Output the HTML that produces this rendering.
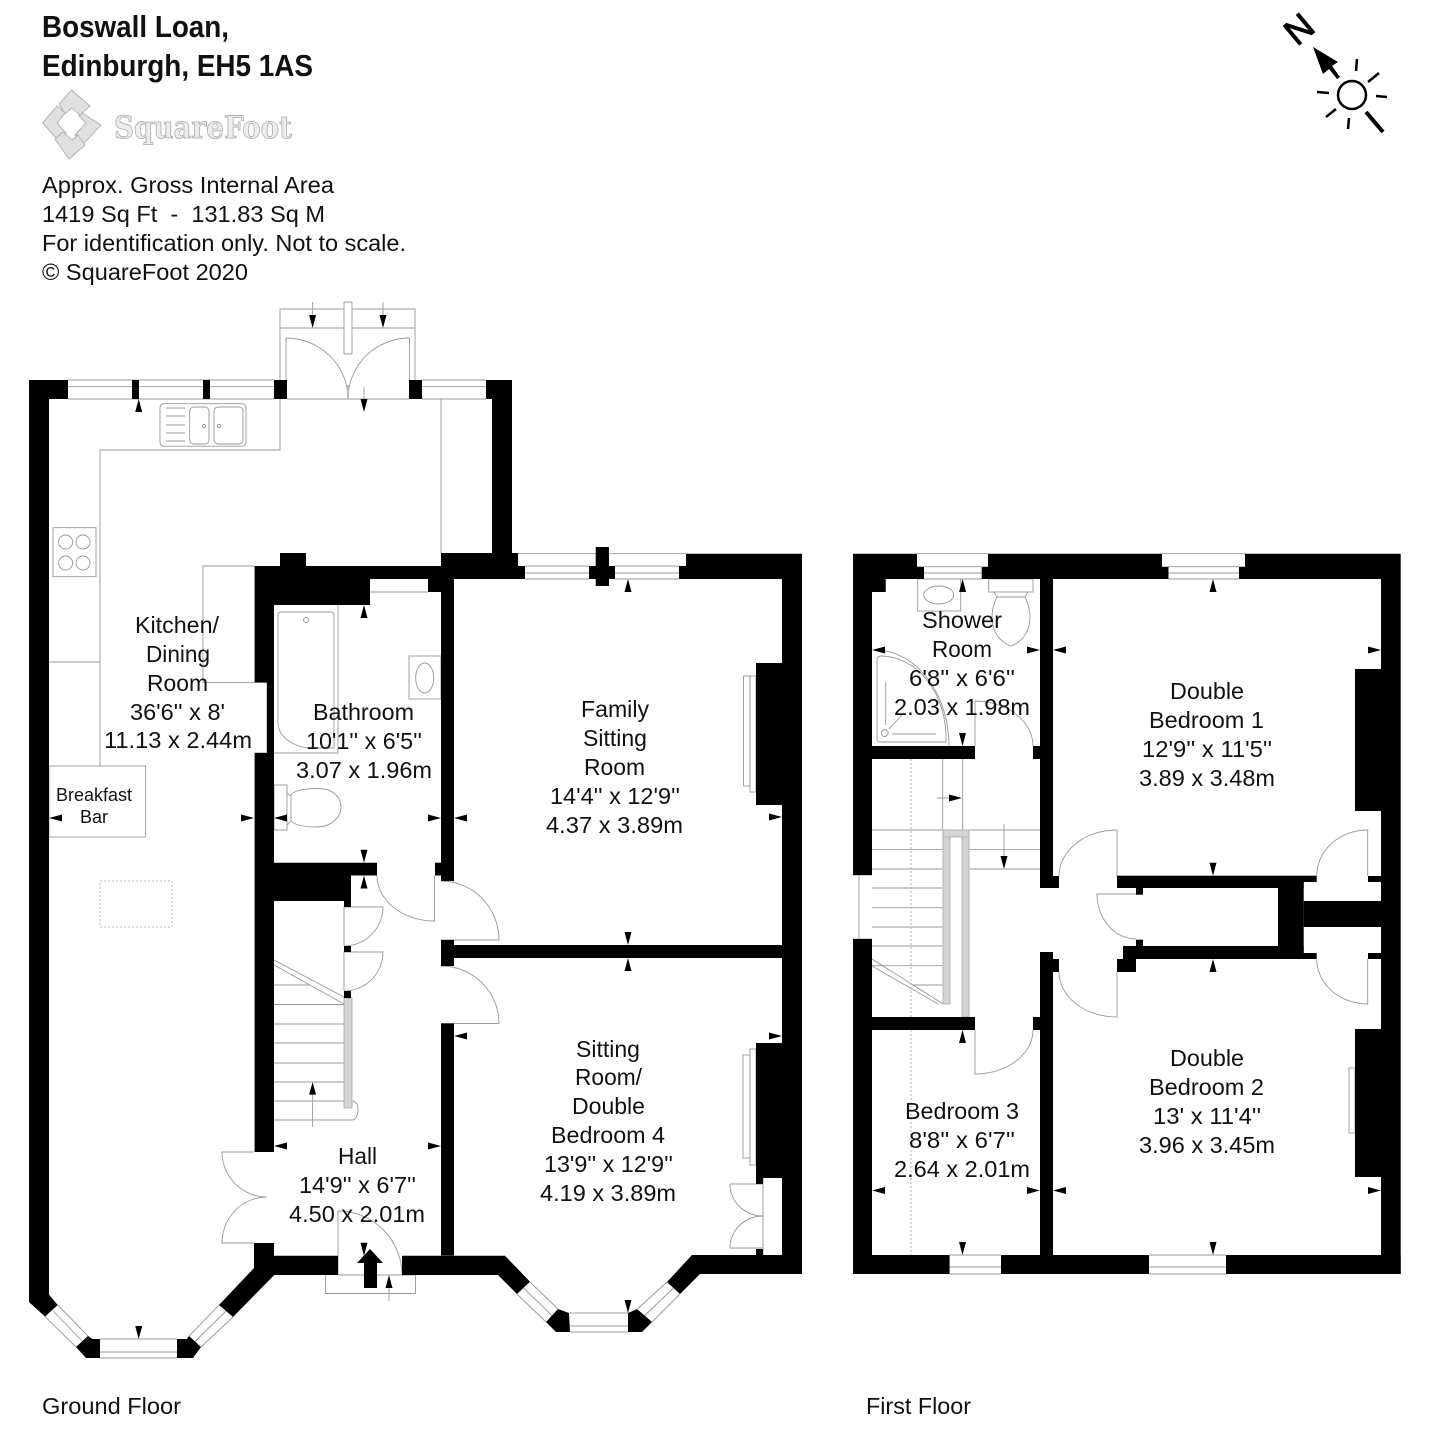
<!DOCTYPE html>
<html><head><meta charset="utf-8"><title>Boswall Loan floor plan</title>
<style>
html,body{margin:0;padding:0;background:#fff}
svg{display:block}
text{font-family:"Liberation Sans",sans-serif;fill:#111;font-size:23.5px}
.k{fill:#000;stroke:none}
.g{fill:none;stroke:#999;stroke-width:.9}
.w{fill:#fff;stroke:#999;stroke-width:.9}
.h{fill:#d4d4d4;stroke:#a8a8a8;stroke-width:.8}
.d{fill:none;stroke:#b4b4b4;stroke-width:1;stroke-dasharray:2 2}
</style></head><body>
<svg width="1429" height="1429" viewBox="0 0 1429 1429" xmlns="http://www.w3.org/2000/svg">
<rect width="1429" height="1429" fill="#fff"/>

<!-- header -->
<text x="42" y="37" style="font-size:31px;font-weight:700" textLength="187" lengthAdjust="spacingAndGlyphs">Boswall Loan,</text>
<text x="42" y="76" style="font-size:31px;font-weight:700" textLength="271" lengthAdjust="spacingAndGlyphs">Edinburgh, EH5 1AS</text>
<g fill="#e0e0e0" stroke="#b4b4b4" stroke-width="1">
<path d="M71.7 90L90 106 80 115 71.7 108 65 114 59 104Z"/>
<path d="M57 106L65 113 57 123 66 133 58 140 42.7 123Z"/>
<path d="M82 113L101 125 84 143 75 135 86 123 79 116Z"/>
<path d="M55 139L63 132 72 140 78 135 85 145 69 159Z"/>
</g>
<text x="114" y="138" style="font-family:'DejaVu Serif','Liberation Serif',serif;font-weight:700;font-size:31px;fill:#ececec;stroke:#a8a8a8;stroke-width:.8" textLength="178" lengthAdjust="spacingAndGlyphs">SquareFoot</text>
<text x="42" y="193" textLength="292" lengthAdjust="spacingAndGlyphs">Approx. Gross Internal Area</text>
<text x="42" y="222" xml:space="preserve" textLength="283" lengthAdjust="spacingAndGlyphs">1419 Sq Ft  -  131.83 Sq M</text>
<text x="42" y="251" textLength="364" lengthAdjust="spacingAndGlyphs">For identification only. Not to scale.</text>
<text x="42" y="280" textLength="206" lengthAdjust="spacingAndGlyphs">© SquareFoot 2020</text>

<!-- compass -->
<text transform="translate(1299,29) rotate(-40)" text-anchor="middle" y="12.4" style="font-size:36px;fill:#000;stroke:#000;stroke-width:1">N</text>
<path class="k" d="M1313 47L1338 62 1332 66 1340 77 1337 79 1329 69 1323 74Z"/>
<circle cx="1352" cy="95" r="14" fill="none" stroke="#000" stroke-width="2.5"/>
<g stroke="#000" stroke-width="2.5" fill="none">
<path d="M1357 59L1356 71M1379 73L1368 82M1376 96L1387 97M1349 118L1348 129M1336 109L1326 117M1317 92L1329 93"/>
<path d="M1366 112L1383 132" stroke-width="4"/>
</g>

<!-- GROUND FLOOR fixtures / light lines -->
<g class="g">
<path d="M68 380H274M68 386.7H274M68 399H139M139 399H274M422 380H486M422 386.7H486M422 399H486M287 399H409"/>
<path d="M280 380V309H415V380M280 328H415M286 380V338M409.5 380V338M286 338A62 61 0 0 1 348 399M409.5 338A61.5 61 0 0 0 348 399"/>
<path d="M312.6 302V316M383 302V316M364 387V400"/>
<path d="M280 399V450H100V766M49 662H100M441 399V553M203 682.6V566H254.6M203 682.6H254.6M254.6 753H267M267 682.6V753"/>
<rect x="160" y="403.7" width="86" height="42.5" rx="4"/>
<path d="M166 408H185M166 416H185M166 425H185M166 433H185M166 441H185"/>
<rect x="189.7" y="407" width="19.3" height="37" rx="4"/>
<rect x="214" y="407" width="29" height="37" rx="4"/>
<circle cx="204" cy="426" r="1.5"/><circle cx="219" cy="426" r="1.5"/>
<rect x="53" y="527.7" width="43" height="49"/>
<circle cx="65.6" cy="542" r="7"/><circle cx="83" cy="542" r="7"/><circle cx="65.6" cy="563" r="7"/><circle cx="83" cy="563" r="7"/>
<rect x="49" y="766" width="96.6" height="71"/>
<path d="M370 592H428M338 605V753H274"/>
<path d="M281 612H331q3 0 3 3V748H313C295 748 278 738 278 722V615q0-3 3-3Z"/>
<circle cx="306" cy="620" r="2.5"/>
<rect x="409" y="656" width="32" height="43"/>
<ellipse cx="424.7" cy="678" rx="9" ry="15"/>
<rect x="274" y="785" width="13" height="45"/>
<path d="M287 793L291 796M287 825L291 821M291 796C291 792 300 788.5 318 788.5C334 788.5 341 798 341 807C341 817 332 827 316 827C300 827 291 823 291 820Z"/>
<path d="M377 875.5A57.5 45.5 0 0 0 434.5 921V875.5"/>
<path d="M441 881A58 59 0 0 1 499 940H441M441 966A58 57.5 0 0 1 499 1023.5H441"/>
<path d="M344 946V907H383A39 39 0 0 1 344 946M344 991V952H383A39 39 0 0 1 344 991"/>
<path d="M254 1152H222A45 45 0 0 0 267 1197M254 1243H222A45 46 0 0 1 267 1197"/>
<path d="M338 1275V1211A64 64 0 0 1 402 1275"/>
<path d="M338 1275H415.5V1293.5H325.5V1275"/>
<path d="M274 985H309M274 1004.5H344M274 1024H344M274 1043H344M274 1063H344M274 1082H344M274 1101H344M274 1120H352M274 960L344 997M274 965L344 1004M352 1101C357 1101 358 1106 358 1110C358 1116 355 1120 352 1120M312.6 1092V1127"/>
<path d="M364 1243V1255M389 1286V1301"/>
<rect x="743.5" y="676" width="6.5" height="110"/>
<rect x="750" y="676" width="6" height="116"/>
<rect x="743" y="1055" width="7" height="103"/>
<rect x="750" y="1049" width="6" height="116"/>
<path d="M763 1184H730A33 32 0 0 0 763 1216M763 1248H730A33 32 0 0 1 763 1216M763 1178V1255"/>
<path d="M100 1339H177M100 1358H177M100 1352H177M57.7 1305L88 1336M45 1316.6L76 1347M52.7 1310.5L82 1341M189 1336L219 1305M201 1347L233 1317M195 1341.5L226 1311"/>
<path d="M525 566H589M518 553.7H595.7M525 573H589M525 579H589M609 553.7H686M615 566H679M615 573H679M615 579H679"/>
<path d="M570 1313H628M570 1332H628M570 1326H628M530 1282L558 1309M517 1294L546 1322M523.5 1288L552 1315.5M637.5 1309L667 1282M652 1322L680 1294M644.7 1315.5L673.5 1288"/>
</g>
<rect class="w" x="344" y="302" width="8" height="52" rx="1"/>
<rect x="347" y="385" width="2" height="14" fill="#bbb"/>
<rect class="d" x="100" y="881" width="72" height="46"/>
<rect class="h" x="344" y="998" width="8" height="110"/>

<!-- GROUND FLOOR walls -->
<g class="k">
<path d="M29 380H68V399H49V1294.6L57.7 1305 45 1316.6 29 1302Z"/>
<rect x="132" y="380" width="7" height="19"/><rect x="203" y="380" width="7" height="19"/>
<rect x="274" y="380" width="13" height="19"/><rect x="409" y="380" width="13" height="19"/>
<path d="M486 380H512V553H492V399H486Z"/>
<path d="M88 1336L92.7 1339H100V1358H86L76 1347Z"/>
<path d="M177 1339H186.7L189 1336 201 1347 193 1358H177Z"/>
<path d="M254 1243H274V1255.7H338V1275H274.3L233 1317 219 1305 254 1268Z"/>
<path d="M254.6 566H280V553H306V566H441V553H518V566H525V579H454V881H441V592H428V579H370V605H274V682.6H254.6Z"/>
<rect x="267" y="682" width="7" height="72"/>
<rect x="254.6" y="753" width="19.4" height="399"/>
<path d="M274 862.7H377V875.5H351V907H344V901H274Z"/>
<rect x="435" y="862.7" width="6" height="12.8"/>
<rect x="344" y="946" width="7" height="6"/><rect x="344" y="991" width="7" height="7"/>
<rect x="441" y="940" width="13" height="26"/><rect x="454" y="945" width="328" height="13"/>
<rect x="441" y="1023.5" width="13" height="232"/>
<path d="M402 1255.7H505L530 1281.7 517 1294 498 1275H402Z"/>
<path d="M558 1309L569 1313 570 1332H556L546 1322Z"/>
<path d="M628 1313L637 1309 652 1322 642 1332H628Z"/>
<path d="M686 553.7H802V1274H700L680 1294 667 1282 692 1255H782V579H679V566H686Z"/>
<rect x="595.7" y="547" width="13.3" height="39"/><rect x="589" y="566" width="26" height="13"/>
<rect x="756" y="663" width="26" height="142"/>
<rect x="756" y="1043" width="26" height="135"/>
<rect x="756" y="1178" width="7" height="6"/><rect x="756" y="1249" width="7" height="6"/>
<path d="M370 1249L383 1263H377V1288H364V1263H357Z"/>
</g>
<!-- GROUND arrows -->
<path class="k" d="
M138.7 399l-3.5 13h7z
M312.6 328l-3.5-13h7z M383 328l-3.5-13h7z M364 412l-3.5-13h7z
M364 605l-3.5 13h7z M364 862.7l-3.5-13h7z M364 875.5l-3.5 13h7z
M49 818l13-3.5v7z M254 818l-13-3.5v7z M274 818l13-3.5v7z M441 818l-13-3.5v7z M454 818l13-3.5v7z M782 817l-13-3.5v7z
M274 1146l13-3.5v7z M441 1146l-13-3.5v7z
M312.6 1082l-3.5 12.6h7z M364 1255.7l-3.5-13h7z M389 1275l-3.5 13h7z
M138.7 1339l-3.5-13h7z
M628 579l-3.5 13h7z M628 945l-3.5-13h7z M628 958l-3.5 13h7z
M454 1036l13-3.5v7z M782 1036l-13-3.5v7z M628 1313l-3.5-13h7z"/>

<!-- FIRST FLOOR light lines -->
<g class="g">
<path d="M917 553.7H988M924 566.7H981.7M924 573H981.7M924 579H981.7M1162 553.7H1245M1168.5 566.7H1239M1168.5 573H1239M1168.5 579H1239"/>
<path d="M853 875H872M853 939H872M859 875V939"/>
<path d="M949.6 1255H1001M949.6 1267H1001M949.6 1274H1001M1149 1255H1226M1149 1267H1226M1149 1274H1226"/>
<rect x="917.7" y="579" width="43" height="32"/>
<ellipse cx="938.7" cy="595" rx="15" ry="9"/>
<rect x="988.7" y="579" width="44.3" height="13"/>
<path d="M994 592L997 597M1028 592L1025 597M997 597H1025C1029 605 1030 612 1030 617C1030 632 1022 642 1011 646C1000 642 992 632 992 617C992 612 993 605 997 597Z"/>
<path d="M875 650A74 96 0 0 1 949 746"/>
<path d="M881 656A65 82 0 0 1 946 738V742H881Q877 742 877 738V660Q877 656 881 656Z"/>
<circle cx="884.7" cy="733" r="3.5"/>
<path d="M885.7 682V725M892 734H936M889 729L903 714"/>
<path d="M975 746V701A58 45 0 0 1 1033 746M975 1030V1074A58 44 0 0 0 1033 1030"/>
<path d="M1117 876V830A58 46 0 0 0 1059 876M1117 972V1017A58 45 0 0 1 1059 972"/>
<path d="M1136 894H1097A39 45 0 0 0 1136 939"/>
<path d="M1367.7 876V830A51 46 0 0 0 1316.7 876M1367.7 959V1004A51 45 0 0 1 1316.7 959"/>
<path d="M942.7 759V830M962.7 759V830M937 798H950"/>
<path d="M872 830H943M969 830H1040M872 849.7H943M969 849.7H1040M872 869H943M969 869H1040M872 888H943M872 907.7H943M872 927H943M872 946H943M872 965.7H943M912 985H943M872 959L943 1004M872 966L938 1004M1004 824V858"/>
<rect x="1349" y="1068" width="6" height="65"/>
</g>
<path class="d" d="M911 759V1017M911 1030V1255"/>
<rect class="h" x="943" y="830" width="7" height="174"/>
<rect class="h" x="943" y="830" width="26" height="7"/>
<rect class="h" x="962" y="837" width="7" height="180"/>

<!-- FIRST FLOOR walls -->
<g class="k">
<path d="M853 553.7H917V566.7H924V579H885.7V592H872V875H853Z"/>
<rect x="853" y="939" width="19" height="335"/>
<rect x="853" y="1255" width="96.6" height="19"/>
<rect x="1001" y="1255" width="148" height="19"/>
<rect x="1226" y="1255" width="174.7" height="19"/>
<path d="M988 553.7H1162V566.7H1168.5V579H981.7V566.7H988Z"/>
<path d="M1245 553.7H1400.7V1274H1381V579H1239V566.7H1245Z"/>
<rect x="1040" y="579" width="13" height="309"/><rect x="1053" y="876" width="6" height="12"/>
<rect x="872" y="746" width="103" height="13"/><rect x="1033" y="746" width="7" height="13"/>
<rect x="872" y="1017" width="103" height="13"/><rect x="1033" y="1017" width="7" height="13"/>
<rect x="1040" y="952" width="13" height="303"/><rect x="1053" y="959" width="6" height="13"/>
<rect x="1117" y="875.7" width="199.7" height="6.3"/><rect x="1117" y="882" width="186.7" height="6"/>
<rect x="1136" y="888" width="7" height="6.7"/><rect x="1136" y="939.7" width="7" height="6.3"/>
<rect x="1123" y="946" width="180.7" height="13"/><rect x="1303" y="953" width="13.7" height="6"/>
<rect x="1117" y="959" width="19" height="13"/>
<rect x="1278" y="882" width="25.7" height="77"/>
<rect x="1303.7" y="901" width="77.3" height="26"/>
<rect x="1368" y="876" width="13" height="6"/><rect x="1368" y="953" width="13" height="6"/>
<rect x="1355" y="669" width="26" height="142"/>
<rect x="1355" y="1029" width="26" height="148"/>
</g>
<!-- FIRST arrows -->
<path class="k" d="
M962.6 579l-3.5 13h7z M962.5 746l-3.5-13h7z M962.5 1030l-3.5 13h7z M962.5 1255l-3.5-13h7z
M872 650l13-3.5v7z M1040 650l-13-3.5v7z M1053 650l13-3.5v7z
M962 798l-13-3.5v7z M1004 869l-3.5-13h7z
M1213 579l-3.5 13h7z M1381 650l-13-3.5v7z M1213 875.7l-3.5-13h7z M1213 959l-3.5 13h7z
M872 1190.5l13-3.5v7z M1040 1190.5l-13-3.5v7z M1053 1190.5l13-3.5v7z M1381 1190.5l-13-3.5v7z M1213 1255l-3.5-13h7z"/>

<!-- room labels -->
<text x="135" y="633" textLength="84" lengthAdjust="spacingAndGlyphs">Kitchen/</text>
<text x="146" y="662" textLength="64" lengthAdjust="spacingAndGlyphs">Dining</text>
<text x="147" y="691" textLength="61" lengthAdjust="spacingAndGlyphs">Room</text>
<text x="130" y="720" textLength="95" lengthAdjust="spacingAndGlyphs">36'6'' x 8'</text>
<text x="104" y="748" textLength="148" lengthAdjust="spacingAndGlyphs">11.13 x 2.44m</text>
<text x="56" y="801" style="font-size:18px" textLength="76" lengthAdjust="spacingAndGlyphs">Breakfast</text>
<text x="80" y="823" style="font-size:18px" textLength="28" lengthAdjust="spacingAndGlyphs">Bar</text>
<text x="313" y="720" textLength="101" lengthAdjust="spacingAndGlyphs">Bathroom</text>
<text x="306" y="749" textLength="116" lengthAdjust="spacingAndGlyphs">10'1'' x 6'5''</text>
<text x="296" y="778" textLength="136" lengthAdjust="spacingAndGlyphs">3.07 x 1.96m</text>
<text x="581" y="717" textLength="68" lengthAdjust="spacingAndGlyphs">Family</text>
<text x="583" y="746" textLength="64" lengthAdjust="spacingAndGlyphs">Sitting</text>
<text x="584" y="775" textLength="61" lengthAdjust="spacingAndGlyphs">Room</text>
<text x="550" y="804" textLength="130" lengthAdjust="spacingAndGlyphs">14'4'' x 12'9''</text>
<text x="546" y="833" textLength="137" lengthAdjust="spacingAndGlyphs">4.37 x 3.89m</text>
<text x="576" y="1057" textLength="64" lengthAdjust="spacingAndGlyphs">Sitting</text>
<text x="575" y="1085" textLength="67" lengthAdjust="spacingAndGlyphs">Room/</text>
<text x="572" y="1114" textLength="73" lengthAdjust="spacingAndGlyphs">Double</text>
<text x="551" y="1143" textLength="114" lengthAdjust="spacingAndGlyphs">Bedroom 4</text>
<text x="544" y="1172" textLength="129" lengthAdjust="spacingAndGlyphs">13'9'' x 12'9''</text>
<text x="540" y="1201" textLength="136" lengthAdjust="spacingAndGlyphs">4.19 x 3.89m</text>
<text x="338" y="1164" textLength="39" lengthAdjust="spacingAndGlyphs">Hall</text>
<text x="299" y="1193" textLength="117" lengthAdjust="spacingAndGlyphs">14'9'' x 6'7''</text>
<text x="289" y="1222" textLength="136" lengthAdjust="spacingAndGlyphs">4.50 x 2.01m</text>
<text x="922" y="628" textLength="80" lengthAdjust="spacingAndGlyphs">Shower</text>
<text x="932" y="657" textLength="60" lengthAdjust="spacingAndGlyphs">Room</text>
<text x="909" y="686" textLength="106" lengthAdjust="spacingAndGlyphs">6'8'' x 6'6''</text>
<text x="894" y="715" textLength="136" lengthAdjust="spacingAndGlyphs">2.03 x 1.98m</text>
<text x="1170" y="699" textLength="74" lengthAdjust="spacingAndGlyphs">Double</text>
<text x="1149" y="728" textLength="115" lengthAdjust="spacingAndGlyphs">Bedroom 1</text>
<text x="1142" y="757" textLength="130" lengthAdjust="spacingAndGlyphs">12'9'' x 11'5''</text>
<text x="1139" y="786" textLength="136" lengthAdjust="spacingAndGlyphs">3.89 x 3.48m</text>
<text x="1170" y="1066" textLength="74" lengthAdjust="spacingAndGlyphs">Double</text>
<text x="1149" y="1095" textLength="115" lengthAdjust="spacingAndGlyphs">Bedroom 2</text>
<text x="1153" y="1124" textLength="108" lengthAdjust="spacingAndGlyphs">13' x 11'4''</text>
<text x="1139" y="1153" textLength="136" lengthAdjust="spacingAndGlyphs">3.96 x 3.45m</text>
<text x="905" y="1119" textLength="114" lengthAdjust="spacingAndGlyphs">Bedroom 3</text>
<text x="909" y="1148" textLength="106" lengthAdjust="spacingAndGlyphs">8'8'' x 6'7''</text>
<text x="894" y="1177" textLength="136" lengthAdjust="spacingAndGlyphs">2.64 x 2.01m</text>
<text x="42" y="1414" textLength="139" lengthAdjust="spacingAndGlyphs">Ground Floor</text>
<text x="866" y="1414" textLength="105" lengthAdjust="spacingAndGlyphs">First Floor</text>
</svg>
</body></html>
